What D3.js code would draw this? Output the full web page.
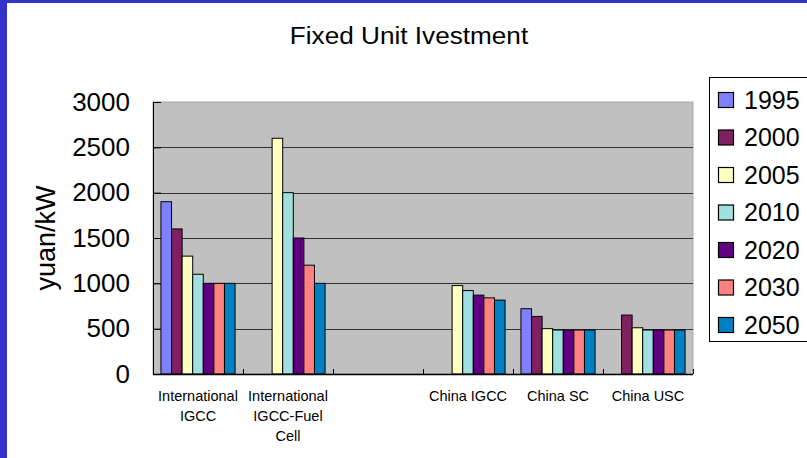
<!DOCTYPE html>
<html>
<head>
<meta charset="utf-8">
<script src="https://cdn.jsdelivr.net/npm/d3@7"></script>
<style>
  html, body { margin: 0; padding: 0; background: #fff; }
  svg { display: block; font-family: Arial, "Liberation Sans", sans-serif; }
</style>
</head>
<body>
<div id="result"></div>
<script>
// chart data
const categories = ['International\nIGCC', 'International\nIGCC-Fuel\nCell', '', 'China IGCC', 'China SC', 'China USC'];
const years = ['1995', '2000', '2005', '2010', '2020', '2030', '2050'];
const colors = ['#8080FF', '#802060', '#FFFFC0', '#A0E0E0', '#600080', '#FF8080', '#0080C0'];
// one array per year, one value per category (null = no bar)
const v1995 = [1900, null, null, null, 720, null];
const v2000 = [1600, null, null, null, 635, 650];
const v2005 = [1300, 2600, null, 975, 500, 510];
const v2010 = [1100, 2000, null, 920, 485, 485];
const v2020 = [1000, 1500, null, 870, 485, 485];
const v2030 = [1000, 1200, null, 840, 485, 485];
const v2050 = [1000, 1000, null, 815, 485, 485];
const yTicks = [0, 500, 1000, 1500, 2000, 2500, 3000];

const seriesValues = [v1995, v2000, v2005, v2010, v2020, v2030, v2050];

const W = 807, H = 458;
const plot = { left: 153, right: 693, top: 102, bottom: 374 };

const svg = d3.select('#result').append('svg')
  .attr('width', W)
  .attr('height', H);

// blue frame
svg.append('rect').attr('x', 0).attr('y', 0).attr('width', W).attr('height', H).attr('fill', '#3333CC');
svg.append('rect').attr('x', 7).attr('y', 3).attr('width', W - 7).attr('height', H - 3).attr('fill', '#fff');

// title is a little wider than the font, like the original slide
svg.append('text')
  .attr('transform', 'translate(409,44.3)scale(1.09,1)')
  .attr('text-anchor', 'middle')
  .attr('font-size', 24)
  .text('Fixed Unit Ivestment');

const x0 = d3.scaleBand().domain(d3.range(categories.length)).range([plot.left, plot.right]);
const x1 = d3.scaleBand().domain(years).range([0, x0.bandwidth()]).paddingOuter(0.75);
const y = d3.scaleLinear().domain([0, 3000]).range([plot.bottom, plot.top]);

svg.append('rect')
  .attr('x', plot.left).attr('y', plot.top)
  .attr('width', plot.right - plot.left).attr('height', plot.bottom - plot.top)
  .attr('fill', '#C0C0C0')
  .attr('stroke', '#A8A8A8');

// gridlines
svg.append('g').selectAll('line')
  .data(yTicks.filter(d => d > 0 && d < 3000))
  .join('line')
  .attr('x1', plot.left).attr('x2', plot.right)
  .attr('y1', d => Math.round(y(d)) + 0.5).attr('y2', d => Math.round(y(d)) + 0.5)
  .attr('stroke', '#333');

// bars
const groups = svg.append('g').selectAll('g')
  .data(years)
  .join('g')
  .attr('fill', (d, i) => colors[i]);

groups.selectAll('rect')
  .data((yr, i) => seriesValues[i].map((v, c) => ({ yr, v, c })).filter(d => d.v != null))
  .join('rect')
  .attr('x', d => x0(d.c) + x1(d.yr))
  .attr('y', d => y(d.v))
  .attr('width', x1.bandwidth())
  .attr('height', d => y(0) - y(d.v))
  .attr('stroke', '#000')
  .attr('stroke-width', 1);

// y axis
const yAxis = svg.append('g')
  .attr('transform', `translate(${plot.left},0)`)
  .call(d3.axisLeft(y).tickValues(yTicks).tickSize(-8).tickPadding(23).tickFormat(d3.format('d')));
yAxis.select('.domain').attr('stroke', '#000');
yAxis.selectAll('line').attr('stroke', '#000');
yAxis.selectAll('text').attr('font-size', 26).attr('fill', '#000').attr('font-family', 'Arial, "Liberation Sans", sans-serif');

// x axis line and category ticks
svg.append('line')
  .attr('x1', plot.left).attr('x2', plot.right)
  .attr('y1', plot.bottom + 0.5).attr('y2', plot.bottom + 0.5)
  .attr('stroke', '#000').attr('stroke-width', 1.5);
svg.append('g').selectAll('line')
  .data(d3.range(categories.length + 1))
  .join('line')
  .attr('x1', i => Math.round(i < categories.length ? x0(i) : plot.right) + 0.5)
  .attr('x2', i => Math.round(i < categories.length ? x0(i) : plot.right) + 0.5)
  .attr('y1', plot.bottom - 5).attr('y2', plot.bottom)
  .attr('stroke', '#000');

// category labels
const lab = svg.append('g').selectAll('text')
  .data(categories)
  .join('text')
  .attr('x', (d, i) => x0(i) + x0.bandwidth() / 2)
  .attr('y', 401)
  .attr('text-anchor', 'middle')
  .attr('font-size', 14.5);
lab.selectAll('tspan')
  .data(d => d.split('\n'))
  .join('tspan')
  .attr('x', function() { return this.parentNode.getAttribute('x'); })
  .attr('dy', (d, i) => i === 0 ? 0 : 20)
  .text(d => d);

// y axis title
svg.append('text')
  .attr('transform', `translate(55,${(plot.top + plot.bottom) / 2})rotate(-90)`)
  .attr('text-anchor', 'middle')
  .attr('font-size', 27)
  .text('yuan/kW');

// legend
const legend = svg.append('g');
legend.append('rect')
  .attr('x', 709.5).attr('y', 77.5)
  .attr('width', 120).attr('height', 264)
  .attr('fill', '#fff').attr('stroke', '#000');
const items = legend.selectAll('g')
  .data(years)
  .join('g')
  .attr('transform', (d, i) => `translate(0,${100 + i * 37.5})`);
items.append('rect')
  .attr('x', 718.5).attr('y', -7.5)
  .attr('width', 15).attr('height', 15)
  .attr('fill', (d, i) => colors[i])
  .attr('stroke', '#000').attr('stroke-width', 1.2);
items.append('text')
  .attr('x', 744).attr('y', 8.7)
  .attr('font-size', 25)
  .text(d => d);
</script>
</body>
</html>
